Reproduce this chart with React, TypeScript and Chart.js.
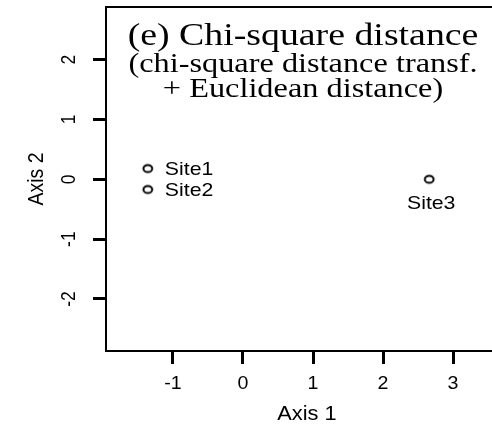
import React, { useEffect, useRef } from "react";
import { Chart, registerables } from "chart.js";

Chart.register(...registerables);

const siteNames = ["Site1", "Site2", "Site3"];
const siteX = [-1.36, -1.36, 2.66];
const siteY = [0.18, -0.17, 0.0];
const xTicks = [-1, 0, 1, 2, 3];
const yTicks = [-2, -1, 0, 1, 2];
const titleLines = ["(e) Chi-square distance", "(chi-square distance transf.", "+ Euclidean distance)"];
const xTitle = "Axis 1";
const yTitle = "Axis 2";

const SX_SERIF = 1.22;
const SX_SANS = 1.12;
const SANS = '"Liberation Sans", Arial, sans-serif';
const SERIF = '"Liberation Serif", "Times New Roman", serif';

function drawText(ctx: CanvasRenderingContext2D, s: string, x: number, y: number, font: string, align: CanvasTextAlign, baseline: CanvasTextBaseline, sx: number, rot = 0) {
  ctx.save();
  ctx.translate(x, y);
  ctx.scale(sx, 1);
  if (rot) ctx.rotate(rot);
  ctx.font = font;
  ctx.textAlign = align;
  ctx.textBaseline = baseline;
  ctx.fillStyle = "#000";
  ctx.fillText(s, 0, 0);
  ctx.restore();
}

function makeMarker() {
  const c = document.createElement("canvas");
  c.width = 14;
  c.height = 12;
  const g = c.getContext("2d")!;
  g.strokeStyle = "#000";
  g.lineWidth = 2;
  g.beginPath();
  g.ellipse(7, 6, 4.4, 3.6, 0, 0, Math.PI * 2);
  g.stroke();
  return c;
}

const textPlugin = {
  id: "textPlugin",
  afterDraw(chart: any) {
    const ctx: CanvasRenderingContext2D = chart.ctx;
    const { left, top } = chart.chartArea;
    const xs = chart.scales.x;
    const ys = chart.scales.y;
    // top border of the plot box (box continues past the right edge)
    ctx.save();
    ctx.strokeStyle = "#000";
    ctx.lineWidth = 2;
    ctx.beginPath();
    ctx.moveTo(left - 1, top);
    ctx.lineTo(chart.width, top);
    ctx.stroke();
    ctx.restore();

    // title
    const cx = 303;
    drawText(ctx, titleLines[0], cx, 45, `31px ${SERIF}`, "center", "alphabetic", SX_SERIF);
    drawText(ctx, titleLines[1], cx, 72, `26.5px ${SERIF}`, "center", "alphabetic", SX_SERIF);
    drawText(ctx, titleLines[2], cx, 97, `26.5px ${SERIF}`, "center", "alphabetic", SX_SERIF);

    // tick labels
    xTicks.forEach((v) => {
      drawText(ctx, String(v), xs.getPixelForValue(v), 384, `17.5px ${SANS}`, "center", "middle", SX_SANS);
    });
    yTicks.forEach((v) => {
      drawText(ctx, String(v), 70, ys.getPixelForValue(v), `17.5px ${SANS}`, "center", "middle", SX_SANS, -Math.PI / 2);
    });

    // axis titles
    drawText(ctx, xTitle, 307, 415, `19.5px ${SANS}`, "center", "middle", SX_SANS);
    drawText(ctx, yTitle, 36.5, 179, `19.5px ${SANS}`, "center", "middle", SX_SANS, -Math.PI / 2);

    // point labels
    siteNames.forEach((n, i) => {
      const px = xs.getPixelForValue(siteX[i]);
      const py = ys.getPixelForValue(siteY[i]);
      if (i < 2) {
        drawText(ctx, n, px + 17, py + 1.5, `19px ${SANS}`, "left", "middle", SX_SANS);
      } else {
        drawText(ctx, n, px + 2, py + 24, `19px ${SANS}`, "center", "middle", SX_SANS);
      }
    });
  },
};

export default function App() {
  const ref = useRef<HTMLCanvasElement>(null);
  useEffect(() => {
    if (!ref.current) return;
    const marker = makeMarker();
    const axisCommon = {
      type: "linear" as const,
      ticks: { display: false },
      grid: {
        display: true,
        drawOnChartArea: false,
        drawTicks: true,
        tickLength: 13,
        tickWidth: 3,
        tickColor: "#000",
        color: "#000",
      },
      border: { display: true, color: "#000", width: 2 },
    };
    const chart = new Chart(ref.current, {
      type: "scatter",
      data: {
        datasets: [
          {
            label: "sites",
            data: siteX.map((x, i) => ({ x, y: siteY[i] })),
            pointStyle: marker as any,
            pointRadius: 5,
            pointHoverRadius: 5,
          },
        ],
      },
      options: {
        responsive: false,
        animation: false,
        devicePixelRatio: 1,
        layout: { autoPadding: false, padding: { top: 7, right: 0, left: 0, bottom: 0 } },
        plugins: { legend: { display: false }, tooltip: { enabled: false }, title: { display: false } },
        events: [],
        scales: {
          x: {
            ...axisCommon,
            position: "bottom",
            min: -1.957,
            max: 3.557,
            afterBuildTicks: (s: any) => {
              s.ticks = xTicks.map((v) => ({ value: v }));
            },
            afterFit: (s: any) => {
              s.height = 73;
            },
          },
          y: {
            ...axisCommon,
            position: "left",
            min: -2.87,
            max: 2.88,
            afterBuildTicks: (s: any) => {
              s.ticks = yTicks.map((v) => ({ value: v }));
            },
            afterFit: (s: any) => {
              s.width = 106;
            },
          },
        },
      } as any,
      plugins: [textPlugin],
    });
    return () => chart.destroy();
  }, []);
  return (
    <div style={{ position: "fixed", left: 0, top: 0, width: 492, height: 424, background: "#fff" }}>
      <canvas ref={ref} width={492} height={424} style={{ display: "block", width: 492, height: 424 }} />
    </div>
  );
}
